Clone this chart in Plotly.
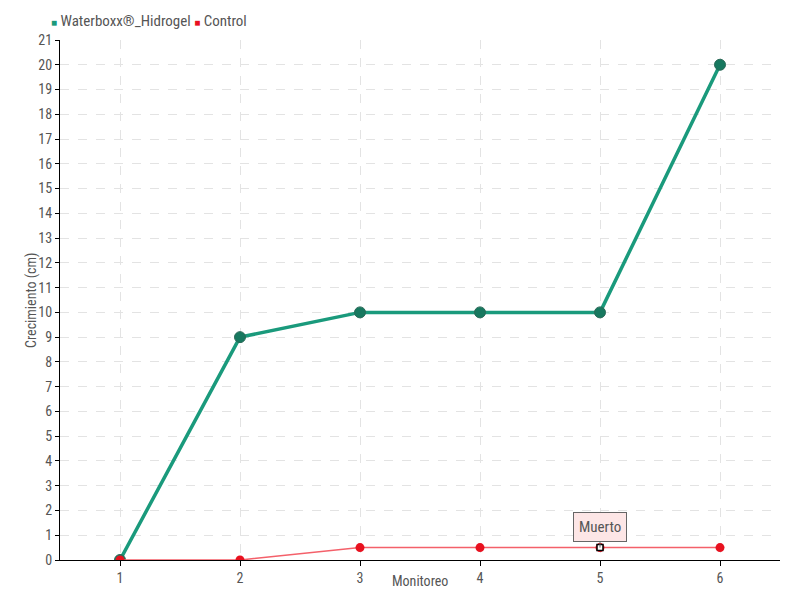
import plotly.graph_objects as go

monitoreo = [1, 2, 3, 4, 5, 6]
waterboxx = [0, 9, 10, 10, 10, 20]
control = [0, 0, 0.5, 0.5, 0.5, 0.5]
y_ticks = list(range(0, 22))
series_names = ["Waterboxx®_Hidrogel", "Control"]
x_title = "Monitoreo"
y_title = "Crecimiento (cm)"

FONT = "Roboto Condensed, Roboto, sans-serif"
GREEN = "#1a9a7c"
GREEN_DARK = "#17785f"
RED = "#e8111f"
TXT = "#555555"

fig = go.Figure()

fig.add_trace(go.Scatter(
    x=monitoreo, y=waterboxx, mode="lines+markers", name=series_names[0], showlegend=False,
    line=dict(color=GREEN, width=3.5),
    marker=dict(size=11, color=GREEN_DARK, line=dict(color="#2a6a58", width=1)),
))
fig.add_trace(go.Scatter(
    x=monitoreo, y=control, mode="lines+markers", name=series_names[1], showlegend=False,
    line=dict(color="#f4606a", width=1.5),
    marker=dict(size=9, color=RED, line=dict(color=RED, width=0)),
))
fig.add_trace(go.Scatter(
    x=[monitoreo[4]], y=[control[4]], mode="markers", showlegend=False,
    marker=dict(symbol="square", size=6, color="white", line=dict(color="black", width=1.5)),
))

# legend drawn as text
legend_text = (f"<span style='color:{GREEN};font-size:10px'>■</span> {series_names[0]} "
               f"<span style='color:{RED};font-size:10px'>■</span> {series_names[1]}")
fig.add_annotation(
    xref="paper", yref="paper", x=-0.015, y=1.0, yshift=19, xanchor="left", yanchor="middle",
    text=legend_text, showarrow=False, font=dict(family=FONT, size=15, color=TXT),
)

# axis titles
fig.add_annotation(
    xref="paper", yref="paper", x=0.5, y=0, yshift=-21, xanchor="center", yanchor="middle",
    text=x_title, showarrow=False, font=dict(family=FONT, size=14, color=TXT),
)
fig.add_annotation(
    xref="paper", yref="paper", x=0, y=0.5, xshift=-29, xanchor="center", yanchor="middle",
    text=y_title, textangle=-90, showarrow=False, font=dict(family=FONT, size=14, color=TXT),
)

fig.add_annotation(
    x=monitoreo[4], y=control[4], text="Muerto", showarrow=True,
    arrowhead=0, arrowwidth=1, arrowcolor="#666", ax=0, ay=-21,
    bgcolor="#fde6e6", bordercolor="#666", borderwidth=1, borderpad=5,
    font=dict(family=FONT, size=15, color=TXT),
)

fig.update_layout(
    width=792, height=592,
    margin=dict(l=52, r=20, t=32, b=40, autoexpand=False),
    paper_bgcolor="white", plot_bgcolor="white",
    font=dict(family=FONT, size=14, color=TXT),
    showlegend=False,
    xaxis=dict(
        range=[0.5, 6.5], tickvals=monitoreo, ticktext=[str(v) for v in monitoreo],
        showgrid=True, gridcolor="#e3e3e3", griddash="dash", gridwidth=1,
        showline=True, linecolor="black", linewidth=1,
        ticks="outside", ticklen=5, tickcolor="black",
        zeroline=False,
        tickfont=dict(family=FONT, size=14, color=TXT),
    ),
    yaxis=dict(
        range=[0, 21], tickvals=y_ticks,
        showgrid=True, gridcolor="#e3e3e3", griddash="dash", gridwidth=1,
        showline=True, linecolor="black", linewidth=1,
        ticks="outside", ticklen=4, tickcolor="black",
        zeroline=False,
        tickfont=dict(family=FONT, size=14, color=TXT),
    ),
)

fig.write_html("out.html")
